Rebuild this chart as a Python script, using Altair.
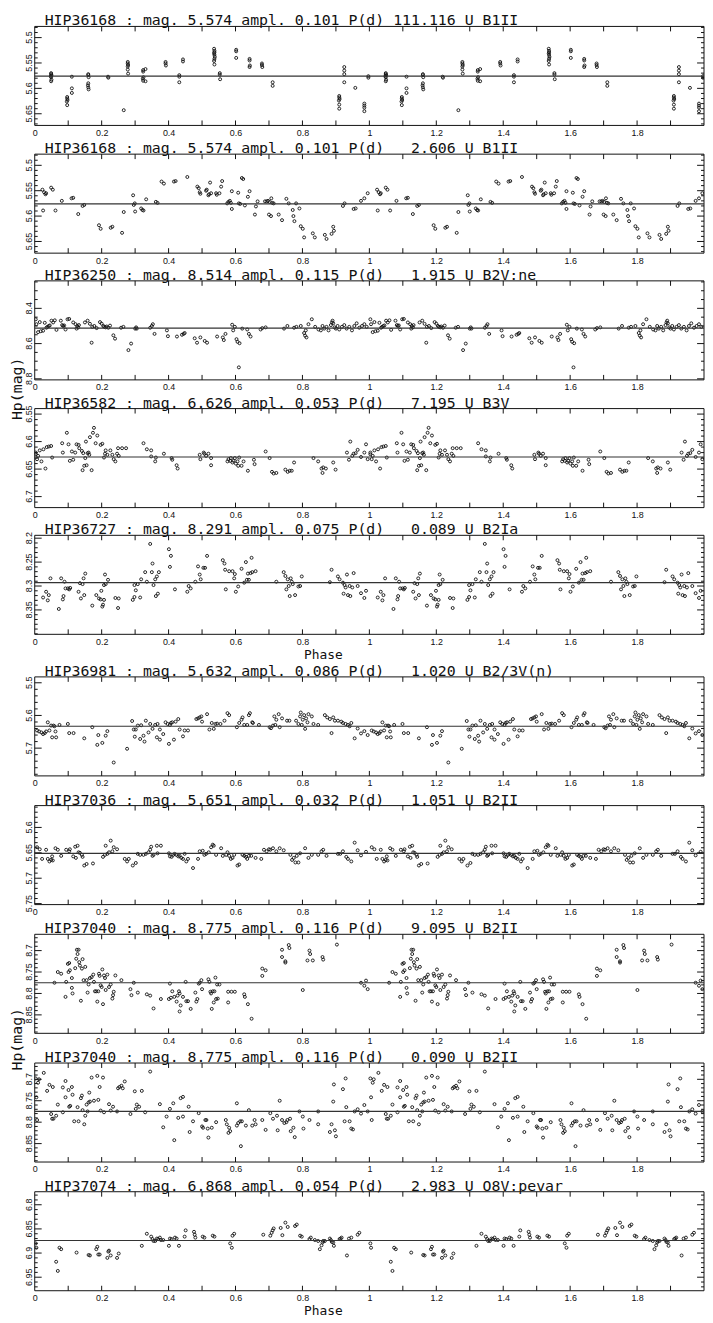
import altair as alt
import numpy as np
import pandas as pd

W = 676
H = 100
TITLE_FONT = "DejaVu Sans Mono"
LABEL_FONT = "Liberation Sans"
INK = "#111111"

XLAB = [0, 0.2, 0.4, 0.6, 0.8, 1, 1.2, 1.4, 1.6, 1.8]
XTICKS = [0.1, 0.2, 0.3, 0.4, 0.5, 0.6, 0.7, 0.8, 0.9, 1.0, 1.1, 1.2, 1.3, 1.4, 1.5, 1.6, 1.7, 1.8, 1.9]

TITLES = [
    "HIP36168 : mag. 5.574 ampl. 0.101 P(d) 111.116 U B1II",
    "HIP36168 : mag. 5.574 ampl. 0.101 P(d)\u00a0\u00a0\u00a02.606 U B1II",
    "HIP36250 : mag. 8.514 ampl. 0.115 P(d)\u00a0\u00a0\u00a01.915 U B2V:ne",
    "HIP36582 : mag. 6.626 ampl. 0.053 P(d)\u00a0\u00a0\u00a07.195 U B3V",
    "HIP36727 : mag. 8.291 ampl. 0.075 P(d)\u00a0\u00a0\u00a00.089 U B2Ia",
    "HIP36981 : mag. 5.632 ampl. 0.086 P(d)\u00a0\u00a0\u00a01.020 U B2/3V(n)",
    "HIP37036 : mag. 5.651 ampl. 0.032 P(d)\u00a0\u00a0\u00a01.051 U B2II",
    "HIP37040 : mag. 8.775 ampl. 0.116 P(d)\u00a0\u00a0\u00a09.095 U B2II",
    "HIP37040 : mag. 8.775 ampl. 0.116 P(d)\u00a0\u00a0\u00a00.090 U B2II",
    "HIP37074 : mag. 6.868 ampl. 0.054 P(d)\u00a0\u00a0\u00a02.983 U O8V:pevar",
]

MEAN_LINE = [5.576, 5.576, 8.512, 6.628, 8.293, 5.633, 5.651, 8.775, 8.775, 6.874]

Y_DOMAIN = [
    (5.478, 5.673), (5.478, 5.673), (8.244, 8.806), (6.540, 6.720), (8.194, 8.401),
    (5.482, 5.785), (5.557, 5.752), (8.662, 8.893), (8.662, 8.893), (6.773, 6.978),
]
Y_MAJOR = [
    [5.5, 5.55, 5.6, 5.65], [5.5, 5.55, 5.6, 5.65], [8.4, 8.6, 8.8], [6.55, 6.6, 6.65, 6.7],
    [8.2, 8.25, 8.3, 8.35], [5.5, 5.6, 5.7], [5.6, 5.65, 5.7, 5.75], [8.7, 8.75, 8.8, 8.85],
    [8.7, 8.75, 8.8, 8.85], [6.8, 6.85, 6.9, 6.95],
]
Y_LABELS = [
    ["5.5", "5.55", "5.6", "5.65"], ["5.5", "5.55", "5.6", "5.65"], ["8.4", "8.6", "8.8"],
    ["6.55", "6.6", "6.65", "6.7"], ["8.2", "8.25", "8.3", "8.35"], ["5.5", "5.6", "5.7"],
    ["5.6", "5.65", "5.7", "5.75"], ["8.7", "8.75", "8.8", "8.85"], ["8.7", "8.75", "8.8", "8.85"],
    ["6.8", "6.85", "6.9", "6.95"],
]
Y_MINOR_STEP = [0.01, 0.01, 0.05, 0.01, 0.01, 0.02, 0.01, 0.01, 0.01, 0.01]

# phase (0-1), Hp magnitude : each point is shown at phase and phase+1
P1 = [(0.049,5.570),(0.049,5.572),(0.050,5.574),(0.048,5.576),(0.049,5.578),(0.050,5.583),(0.049,5.586),
      (0.097,5.617),(0.097,5.620),(0.098,5.623),(0.096,5.626),(0.097,5.633),
      (0.111,5.577),(0.111,5.600),(0.111,5.609),
      (0.160,5.572),(0.160,5.574),(0.161,5.578),(0.160,5.590),(0.159,5.594),(0.160,5.598),(0.161,5.602),
      (0.219,5.577),(0.220,5.579),(0.266,5.643),
      (0.278,5.548),(0.278,5.551),(0.279,5.554),(0.278,5.557),(0.278,5.563),(0.279,5.571),
      (0.324,5.564),(0.324,5.567),(0.325,5.578),(0.323,5.581),(0.324,5.585),(0.331,5.562),(0.331,5.586),
      (0.391,5.548),(0.391,5.551),(0.392,5.555),(0.432,5.574),(0.432,5.577),(0.432,5.588),
      (0.443,5.543),(0.443,5.547),
      (0.536,5.522),(0.537,5.526),(0.537,5.529),(0.536,5.531),(0.537,5.534),(0.538,5.538),(0.537,5.542),
      (0.536,5.546),(0.537,5.553),(0.553,5.570),(0.553,5.573),(0.554,5.582),
      (0.602,5.524),(0.602,5.527),(0.602,5.540),(0.642,5.542),(0.642,5.545),(0.643,5.555),(0.642,5.558),
      (0.679,5.551),(0.679,5.554),(0.680,5.558),(0.711,5.588),(0.711,5.595),
      (0.910,5.615),(0.910,5.618),(0.911,5.621),(0.909,5.624),(0.910,5.632),(0.910,5.640),
      (0.925,5.558),(0.925,5.565),(0.925,5.572),(0.925,5.588),(0.958,5.599),
      (0.985,5.630),(0.985,5.634),(0.985,5.638),(0.985,5.645),(0.997,5.576),(0.997,5.579)]

P2 = [(0.023,5.548),(0.028,5.553),(0.032,5.557),(0.034,5.555),(0.025,5.589),(0.049,5.544),(0.054,5.548),
      (0.062,5.589),(0.081,5.570),(0.110,5.565),(0.115,5.564),(0.130,5.596),(0.143,5.580),(0.148,5.578),
      (0.192,5.618),(0.197,5.625),(0.227,5.623),(0.232,5.621),(0.261,5.633),(0.266,5.592),(0.294,5.559),
      (0.296,5.578),(0.299,5.575),(0.300,5.591),(0.318,5.585),(0.322,5.588),(0.325,5.589),(0.333,5.567),
      (0.362,5.572),(0.367,5.574),(0.379,5.532),(0.386,5.536),(0.416,5.532),(0.421,5.531),(0.456,5.523),
      (0.486,5.542),(0.490,5.545),(0.493,5.553),(0.495,5.556),(0.512,5.550),(0.514,5.548),(0.519,5.559),
      (0.521,5.557),(0.524,5.534),(0.527,5.555),(0.542,5.555),(0.544,5.558),(0.552,5.555),(0.557,5.542),
      (0.560,5.531),(0.575,5.575),(0.579,5.572),(0.583,5.570),(0.586,5.574),(0.589,5.551),(0.589,5.586),
      (0.608,5.554),(0.610,5.575),(0.614,5.576),(0.619,5.525),(0.623,5.527),(0.628,5.579),(0.637,5.562),
      (0.642,5.551),(0.658,5.597),(0.661,5.581),(0.666,5.571),(0.688,5.571),(0.693,5.571),(0.697,5.570),
      (0.700,5.597),(0.702,5.572),(0.706,5.600),(0.707,5.565),(0.710,5.574),(0.714,5.575),(0.729,5.597),
      (0.739,5.608),(0.752,5.566),(0.759,5.575),(0.771,5.588),(0.773,5.600),(0.776,5.610),(0.781,5.575),
      (0.791,5.585),(0.795,5.620),(0.801,5.625),(0.805,5.642),(0.831,5.634),(0.837,5.642),(0.867,5.637),
      (0.872,5.645),(0.887,5.635),(0.892,5.621),(0.894,5.629),(0.921,5.580),(0.926,5.575),(0.953,5.586),
      (0.959,5.585),(0.975,5.570),(0.985,5.565),(0.995,5.555)]

P3 = [(0.003,8.462),(0.005,8.490),(0.010,8.535),(0.015,8.478),(0.018,8.530),(0.025,8.527),(0.030,8.482),
      (0.035,8.510),(0.038,8.505),(0.042,8.500),(0.045,8.497),(0.050,8.470),(0.055,8.480),(0.060,8.468),
      (0.065,8.522),(0.078,8.470),(0.082,8.495),(0.085,8.500),(0.088,8.497),(0.092,8.520),(0.098,8.462),
      (0.103,8.460),(0.115,8.480),(0.122,8.490),(0.125,8.515),(0.127,8.500),(0.130,8.508),(0.132,8.495),
      (0.150,8.480),(0.158,8.470),(0.165,8.488),(0.170,8.595),(0.172,8.505),(0.178,8.500),(0.185,8.512),
      (0.195,8.478),(0.200,8.487),(0.205,8.500),(0.208,8.505),(0.212,8.508),(0.215,8.503),(0.220,8.510),
      (0.225,8.498),(0.235,8.553),(0.240,8.572),(0.258,8.510),(0.265,8.505),(0.280,8.637),(0.288,8.600),
      (0.300,8.515),(0.303,8.508),(0.305,8.515),(0.345,8.510),(0.350,8.500),(0.353,8.490),(0.358,8.545),
      (0.395,8.525),(0.398,8.558),(0.425,8.560),(0.440,8.550),(0.445,8.545),(0.448,8.540),(0.478,8.570),
      (0.485,8.595),(0.495,8.565),(0.508,8.585),(0.515,8.595),(0.545,8.560),(0.562,8.565),(0.565,8.580),
      (0.570,8.545),(0.590,8.493),(0.593,8.525),(0.598,8.505),(0.603,8.575),(0.606,8.590),(0.610,8.735),
      (0.612,8.598),(0.620,8.515),(0.635,8.520),(0.640,8.545),(0.645,8.560),(0.675,8.520),(0.680,8.512),
      (0.690,8.508),(0.745,8.515),(0.755,8.500),(0.775,8.510),(0.782,8.505),(0.795,8.500),(0.805,8.540),
      (0.808,8.555),(0.810,8.525),(0.812,8.565),(0.818,8.490),(0.828,8.462),(0.838,8.505),(0.848,8.520),
      (0.855,8.525),(0.860,8.500),(0.865,8.515),(0.872,8.505),(0.878,8.525),(0.885,8.495),(0.888,8.480),
      (0.890,8.470),(0.892,8.485),(0.896,8.508),(0.900,8.515),(0.905,8.500),(0.910,8.520),(0.918,8.505),
      (0.925,8.495),(0.932,8.515),(0.940,8.505),(0.948,8.525),(0.955,8.500),(0.962,8.485),(0.970,8.510),
      (0.978,8.500),(0.985,8.490),(0.992,8.505)]

P4 = [(0.003,6.620),(0.003,6.623),(0.007,6.632),(0.010,6.626),(0.015,6.616),(0.020,6.636),(0.026,6.614),
      (0.032,6.649),(0.036,6.610),(0.042,6.609),(0.049,6.608),(0.052,6.629),(0.082,6.603),(0.084,6.620),
      (0.096,6.584),(0.101,6.605),(0.105,6.635),(0.111,6.618),(0.115,6.633),(0.121,6.620),(0.125,6.605),
      (0.131,6.606),(0.133,6.612),(0.141,6.617),(0.143,6.652),(0.145,6.621),(0.148,6.644),(0.151,6.630),
      (0.153,6.600),(0.155,6.643),(0.158,6.621),(0.161,6.620),(0.163,6.624),(0.165,6.592),(0.170,6.652),
      (0.174,6.584),(0.177,6.575),(0.182,6.603),(0.187,6.589),(0.197,6.606),(0.202,6.604),(0.207,6.629),
      (0.210,6.622),(0.212,6.616),(0.217,6.624),(0.226,6.616),(0.232,6.624),(0.236,6.632),(0.241,6.636),
      (0.246,6.622),(0.249,6.612),(0.251,6.626),(0.261,6.612),(0.273,6.612),(0.325,6.603),(0.335,6.614),
      (0.348,6.616),(0.348,6.627),(0.360,6.636),(0.362,6.629),(0.386,6.622),(0.409,6.630),(0.411,6.633),
      (0.424,6.643),(0.427,6.649),(0.493,6.624),(0.495,6.632),(0.505,6.620),(0.507,6.622),(0.512,6.626),
      (0.519,6.622),(0.527,6.630),(0.527,6.643),(0.576,6.636),(0.579,6.632),(0.584,6.635),(0.586,6.630),
      (0.591,6.638),(0.594,6.635),(0.598,6.630),(0.601,6.640),(0.606,6.636),(0.608,6.644),(0.611,6.629),
      (0.618,6.644),(0.624,6.636),(0.637,6.653),(0.655,6.633),(0.657,6.641),(0.690,6.618),(0.702,6.630),
      (0.709,6.655),(0.714,6.658),(0.722,6.657),(0.749,6.651),(0.756,6.655),(0.762,6.653),(0.768,6.653),
      (0.775,6.638),(0.833,6.630),(0.847,6.636),(0.857,6.649),(0.860,6.657),(0.862,6.647),(0.870,6.649),
      (0.892,6.638),(0.899,6.651),(0.933,6.620),(0.939,6.633),(0.943,6.600),(0.949,6.626),(0.953,6.622),
      (0.959,6.621),(0.965,6.615),(0.975,6.628),(0.985,6.620),(0.990,6.605),(0.995,6.632)]

P5 = [(0.025,8.324),(0.034,8.312),(0.039,8.330),(0.042,8.319),(0.047,8.284),(0.072,8.348),(0.079,8.284),
      (0.084,8.328),(0.086,8.321),(0.089,8.291),(0.092,8.305),(0.099,8.305),(0.103,8.307),(0.106,8.304),
      (0.131,8.312),(0.135,8.294),(0.138,8.326),(0.143,8.296),(0.146,8.284),(0.148,8.319),(0.151,8.274),
      (0.172,8.341),(0.184,8.319),(0.192,8.326),(0.197,8.328),(0.199,8.310),(0.202,8.343),(0.204,8.339),
      (0.207,8.329),(0.207,8.298),(0.210,8.276),(0.212,8.296),(0.219,8.287),(0.241,8.325),(0.249,8.346),
      (0.251,8.326),(0.293,8.329),(0.298,8.323),(0.298,8.298),(0.302,8.309),(0.308,8.296),(0.315,8.324),
      (0.318,8.286),(0.330,8.271),(0.335,8.291),(0.345,8.212),(0.350,8.271),(0.352,8.253),(0.355,8.298),
      (0.360,8.286),(0.362,8.321),(0.365,8.280),(0.368,8.316),(0.371,8.271),(0.401,8.223),(0.404,8.260),
      (0.407,8.237),(0.419,8.307),(0.456,8.312),(0.460,8.300),(0.466,8.305),(0.480,8.291),(0.488,8.259),
      (0.493,8.276),(0.496,8.286),(0.504,8.262),(0.509,8.262),(0.515,8.237),(0.562,8.246),(0.567,8.253),
      (0.569,8.266),(0.571,8.307),(0.581,8.269),(0.591,8.269),(0.596,8.284),(0.598,8.275),(0.601,8.312),
      (0.608,8.301),(0.618,8.264),(0.626,8.293),(0.631,8.250),(0.634,8.287),(0.637,8.274),(0.640,8.287),
      (0.645,8.273),(0.648,8.241),(0.650,8.271),(0.660,8.269),(0.722,8.291),(0.744,8.271),(0.749,8.279),
      (0.752,8.307),(0.756,8.286),(0.759,8.300),(0.762,8.321),(0.765,8.284),(0.768,8.291),(0.771,8.296),
      (0.778,8.319),(0.788,8.301),(0.793,8.300),(0.798,8.280),(0.882,8.292),(0.887,8.266),(0.906,8.280),
      (0.911,8.286),(0.921,8.293),(0.923,8.316),(0.926,8.298),(0.929,8.303),(0.933,8.276),(0.936,8.319),
      (0.941,8.300),(0.943,8.321),(0.949,8.303),(0.953,8.273),(0.965,8.300),(0.975,8.315),(0.985,8.325),
      (0.990,8.310)]

P6 = [(0.007,5.646),(0.013,5.649),(0.020,5.652),(0.025,5.657),(0.030,5.654),(0.034,5.649),(0.039,5.621),
      (0.044,5.646),(0.049,5.631),(0.052,5.667),(0.056,5.631),(0.059,5.633),(0.062,5.649),(0.064,5.667),
      (0.074,5.629),(0.099,5.626),(0.103,5.654),(0.116,5.654),(0.148,5.670),(0.172,5.636),(0.187,5.690),
      (0.190,5.660),(0.202,5.684),(0.212,5.662),(0.217,5.648),(0.236,5.744),(0.276,5.702),(0.291,5.617),
      (0.296,5.643),(0.299,5.665),(0.302,5.643),(0.308,5.631),(0.315,5.672),(0.318,5.630),(0.325,5.662),
      (0.328,5.680),(0.332,5.616),(0.340,5.652),(0.345,5.626),(0.352,5.641),(0.360,5.629),(0.365,5.667),
      (0.367,5.626),(0.374,5.674),(0.374,5.643),(0.384,5.657),(0.391,5.621),(0.397,5.626),(0.401,5.687),
      (0.404,5.629),(0.407,5.623),(0.411,5.621),(0.416,5.674),(0.421,5.619),(0.429,5.611),(0.433,5.643),
      (0.443,5.664),(0.448,5.646),(0.458,5.646),(0.483,5.611),(0.488,5.609),(0.493,5.606),(0.498,5.603),
      (0.500,5.619),(0.515,5.596),(0.522,5.643),(0.529,5.623),(0.535,5.641),(0.540,5.626),(0.545,5.625),
      (0.555,5.626),(0.567,5.616),(0.576,5.593),(0.581,5.599),(0.604,5.636),(0.611,5.623),(0.618,5.613),
      (0.621,5.606),(0.626,5.629),(0.635,5.629),(0.640,5.599),(0.643,5.593),(0.650,5.621),(0.652,5.623),
      (0.670,5.629),(0.702,5.636),(0.706,5.639),(0.712,5.631),(0.716,5.603),(0.719,5.629),(0.722,5.613),
      (0.729,5.596),(0.732,5.636),(0.739,5.609),(0.754,5.616),(0.761,5.616),(0.781,5.616),(0.788,5.626),
      (0.793,5.603),(0.795,5.591),(0.798,5.629),(0.801,5.613),(0.805,5.599),(0.808,5.641),(0.811,5.609),
      (0.815,5.621),(0.818,5.596),(0.828,5.603),(0.833,5.626),(0.847,5.629),(0.867,5.599),(0.874,5.606),
      (0.882,5.611),(0.887,5.654),(0.892,5.606),(0.897,5.616),(0.906,5.616),(0.916,5.619),(0.921,5.623),
      (0.929,5.626),(0.936,5.629),(0.941,5.633),(0.946,5.623),(0.956,5.670),(0.965,5.640),(0.975,5.655),
      (0.985,5.648),(0.995,5.660)]

P7 = [(0.007,5.639),(0.015,5.643),(0.022,5.662),(0.034,5.644),(0.039,5.662),(0.044,5.667),(0.049,5.664),
      (0.052,5.657),(0.054,5.665),(0.062,5.641),(0.069,5.644),(0.079,5.656),(0.094,5.644),(0.103,5.647),
      (0.105,5.643),(0.115,5.657),(0.121,5.638),(0.123,5.660),(0.128,5.636),(0.131,5.649),(0.135,5.650),
      (0.141,5.654),(0.143,5.658),(0.148,5.675),(0.155,5.672),(0.174,5.671),(0.204,5.658),(0.210,5.654),
      (0.212,5.636),(0.217,5.652),(0.222,5.649),(0.227,5.626),(0.232,5.647),(0.236,5.639),(0.246,5.643),
      (0.269,5.662),(0.276,5.667),(0.281,5.662),(0.293,5.675),(0.302,5.670),(0.308,5.652),(0.315,5.654),
      (0.325,5.654),(0.332,5.652),(0.340,5.649),(0.345,5.644),(0.348,5.638),(0.352,5.656),(0.355,5.654),
      (0.365,5.636),(0.367,5.651),(0.377,5.636),(0.401,5.651),(0.404,5.657),(0.409,5.658),(0.414,5.654),
      (0.418,5.652),(0.423,5.654),(0.429,5.657),(0.433,5.656),(0.438,5.660),(0.443,5.662),(0.448,5.652),
      (0.453,5.667),(0.458,5.662),(0.473,5.680),(0.488,5.662),(0.493,5.647),(0.502,5.646),(0.507,5.654),
      (0.512,5.652),(0.520,5.649),(0.527,5.639),(0.532,5.634),(0.535,5.636),(0.542,5.654),(0.557,5.641),
      (0.562,5.656),(0.572,5.654),(0.576,5.649),(0.581,5.656),(0.586,5.662),(0.591,5.660),(0.596,5.654),
      (0.606,5.675),(0.611,5.673),(0.621,5.654),(0.626,5.656),(0.631,5.658),(0.635,5.662),(0.640,5.656),
      (0.647,5.656),(0.660,5.660),(0.677,5.662),(0.685,5.644),(0.693,5.647),(0.700,5.643),(0.704,5.644),
      (0.712,5.641),(0.722,5.647),(0.732,5.641),(0.744,5.645),(0.764,5.654),(0.769,5.664),(0.774,5.660),
      (0.779,5.669),(0.783,5.656),(0.788,5.669),(0.793,5.651),(0.808,5.641),(0.818,5.660),(0.828,5.654),
      (0.847,5.654),(0.857,5.647),(0.862,5.644),(0.872,5.656),(0.906,5.652),(0.913,5.652),(0.921,5.647),
      (0.931,5.658),(0.936,5.662),(0.946,5.667),(0.956,5.630),(0.965,5.645),(0.975,5.655),(0.990,5.648)]

P8 = [(0.059,8.775),(0.069,8.750),(0.079,8.754),(0.092,8.808),(0.094,8.773),(0.099,8.731),(0.101,8.750),
      (0.103,8.729),(0.105,8.746),(0.111,8.764),(0.111,8.787),(0.113,8.800),(0.121,8.741),(0.124,8.719),
      (0.126,8.698),(0.128,8.708),(0.131,8.698),(0.133,8.727),(0.135,8.735),(0.138,8.817),(0.141,8.742),
      (0.143,8.720),(0.146,8.769),(0.151,8.738),(0.155,8.769),(0.158,8.798),(0.161,8.779),(0.165,8.764),
      (0.170,8.762),(0.175,8.756),(0.177,8.773),(0.180,8.795),(0.184,8.795),(0.187,8.819),(0.190,8.795),
      (0.192,8.754),(0.194,8.759),(0.197,8.781),(0.200,8.785),(0.202,8.744),(0.204,8.825),(0.207,8.758),
      (0.210,8.764),(0.212,8.792),(0.217,8.756),(0.222,8.785),(0.227,8.779),(0.232,8.812),(0.234,8.804),
      (0.236,8.796),(0.241,8.758),(0.259,8.769),(0.286,8.790),(0.289,8.804),(0.296,8.775),(0.308,8.798),
      (0.335,8.802),(0.345,8.805),(0.355,8.835),(0.377,8.813),(0.401,8.813),(0.404,8.777),(0.407,8.810),
      (0.411,8.795),(0.417,8.808),(0.424,8.819),(0.427,8.805),(0.431,8.795),(0.433,8.800),(0.433,8.842),
      (0.436,8.828),(0.443,8.808),(0.451,8.773),(0.453,8.818),(0.458,8.818),(0.466,8.836),(0.480,8.798),
      (0.483,8.819),(0.486,8.813),(0.490,8.777),(0.493,8.775),(0.498,8.769),(0.500,8.790),(0.519,8.767),
      (0.522,8.773),(0.525,8.796),(0.527,8.800),(0.529,8.836),(0.532,8.795),(0.535,8.821),(0.537,8.795),
      (0.540,8.763),(0.542,8.813),(0.545,8.779),(0.547,8.812),(0.552,8.779),(0.578,8.796),(0.578,8.821),
      (0.588,8.796),(0.598,8.796),(0.626,8.802),(0.628,8.808),(0.637,8.825),(0.648,8.859),(0.680,8.742),
      (0.680,8.759),(0.690,8.746),(0.739,8.698),(0.739,8.715),(0.749,8.725),(0.749,8.728),(0.759,8.687),
      (0.761,8.694),(0.801,8.792),(0.815,8.723),(0.821,8.700),(0.823,8.708),(0.831,8.723),(0.860,8.715),
      (0.862,8.721),(0.903,8.686),(0.975,8.775),(0.985,8.782),(0.990,8.770),(0.995,8.790)]

P9 = [(0.003,8.698),(0.005,8.742),(0.007,8.795),(0.010,8.708),(0.013,8.700),(0.027,8.685),(0.037,8.727),
      (0.044,8.713),(0.049,8.781),(0.052,8.792),(0.054,8.718),(0.056,8.792),(0.064,8.785),(0.069,8.759),
      (0.084,8.777),(0.084,8.719),(0.092,8.704),(0.092,8.742),(0.101,8.725),(0.103,8.764),(0.106,8.762),
      (0.111,8.718),(0.113,8.736),(0.118,8.798),(0.128,8.765),(0.131,8.798),(0.138,8.744),(0.141,8.738),
      (0.143,8.772),(0.148,8.805),(0.151,8.785),(0.155,8.759),(0.158,8.775),(0.161,8.754),(0.163,8.731),
      (0.165,8.752),(0.170,8.696),(0.177,8.750),(0.187,8.692),(0.190,8.748),(0.194,8.718),(0.197,8.773),
      (0.204,8.696),(0.207,8.777),(0.222,8.758),(0.227,8.773),(0.234,8.764),(0.246,8.775),(0.249,8.721),
      (0.253,8.718),(0.259,8.715),(0.263,8.721),(0.269,8.705),(0.286,8.781),(0.299,8.728),(0.302,8.769),
      (0.305,8.759),(0.312,8.764),(0.320,8.727),(0.330,8.777),(0.345,8.682),(0.374,8.758),(0.384,8.812),
      (0.394,8.787),(0.404,8.769),(0.414,8.756),(0.417,8.842),(0.429,8.790),(0.436,8.744),(0.443,8.741),
      (0.443,8.787),(0.460,8.764),(0.463,8.823),(0.473,8.798),(0.490,8.779),(0.500,8.810),(0.503,8.813),
      (0.510,8.795),(0.513,8.795),(0.517,8.815),(0.519,8.836),(0.529,8.813),(0.542,8.800),(0.571,8.795),
      (0.574,8.805),(0.579,8.825),(0.581,8.813),(0.584,8.821),(0.604,8.756),(0.604,8.808),(0.608,8.802),
      (0.614,8.798),(0.616,8.856),(0.619,8.798),(0.631,8.808),(0.640,8.772),(0.650,8.808),(0.657,8.795),
      (0.660,8.805),(0.680,8.795),(0.690,8.818),(0.704,8.779),(0.712,8.792),(0.724,8.785),(0.726,8.819),
      (0.732,8.750),(0.739,8.795),(0.746,8.802),(0.752,8.800),(0.755,8.795),(0.763,8.792),(0.765,8.821),
      (0.773,8.813),(0.777,8.835),(0.791,8.775),(0.801,8.787),(0.803,8.815),(0.821,8.795),(0.847,8.775),
      (0.847,8.805),(0.882,8.823),(0.887,8.805),(0.892,8.752),(0.894,8.712),(0.897,8.819),(0.900,8.833),
      (0.921,8.723),(0.926,8.798),(0.929,8.698),(0.931,8.765),(0.941,8.798),(0.946,8.815),(0.951,8.817),
      (0.956,8.775),(0.965,8.770),(0.975,8.780),(0.985,8.760),(0.995,8.775)]

P10 = [(0.003,6.880),(0.005,6.889),(0.064,6.918),(0.069,6.937),(0.074,6.889),(0.079,6.892),(0.125,6.899),
       (0.161,6.904),(0.165,6.905),(0.184,6.892),(0.187,6.887),(0.190,6.903),(0.194,6.903),(0.217,6.910),
       (0.220,6.897),(0.222,6.895),(0.227,6.905),(0.246,6.910),(0.251,6.901),(0.320,6.885),(0.335,6.860),
       (0.348,6.866),(0.352,6.871),(0.355,6.875),(0.360,6.875),(0.365,6.870),(0.369,6.871),(0.374,6.868),
       (0.377,6.873),(0.384,6.873),(0.401,6.885),(0.404,6.870),(0.409,6.871),(0.419,6.868),(0.424,6.870),
       (0.431,6.885),(0.448,6.866),(0.451,6.853),(0.476,6.856),(0.478,6.862),(0.480,6.868),(0.502,6.866),
       (0.507,6.868),(0.532,6.864),(0.537,6.866),(0.584,6.880),(0.589,6.889),(0.591,6.864),(0.596,6.860),
       (0.683,6.862),(0.704,6.864),(0.708,6.858),(0.711,6.853),(0.714,6.849),(0.735,6.848),(0.740,6.863),
       (0.749,6.837),(0.756,6.846),(0.778,6.844),(0.783,6.841),(0.793,6.864),(0.798,6.866),(0.821,6.871),
       (0.825,6.868),(0.837,6.873),(0.847,6.875),(0.852,6.892),(0.857,6.884),(0.860,6.878),(0.862,6.875),
       (0.867,6.875),(0.882,6.870),(0.885,6.873),(0.888,6.877),(0.892,6.878),(0.894,6.885),(0.911,6.871),
       (0.914,6.870),(0.917,6.868),(0.933,6.905),(0.939,6.870),(0.946,6.868),(0.965,6.862),(0.970,6.858)]

DATA = [P1, P2, P3, P4, P5, P6, P7, P8, P9, P10]
TOP_PAD = [0, 1, 0, 1, 0, 15, 2, 2, 2, 2]
SPACING = 28


def panel(i):
    lo, hi = Y_DOMAIN[i]
    pad = TOP_PAD[i]
    span = hi - lo
    lo_ext = lo - pad * span / H
    ht = H + pad
    xs = alt.Scale(domain=[0, 2], nice=False, zero=False)
    ys = alt.Scale(domain=[lo_ext, hi], reverse=True, nice=False, zero=False)

    df = pd.DataFrame(DATA[i], columns=["phase", "mag"])
    df = pd.concat([df, df.assign(phase=df["phase"] + 1.0)], ignore_index=True)

    xaxis = alt.Axis(values=XLAB, format="~g", title="", ticks=False, tickSize=0, domain=False,
                     grid=False, labelFont=LABEL_FONT, labelFontSize=9, labelColor=INK,
                     labelPadding=3, labelFlush=False, labelOverlap=False)
    yaxis = alt.Axis(values=Y_MAJOR[i], title="", labels=False, ticks=False, tickSize=0,
                     domain=False, grid=False)

    pts = alt.Chart(df).mark_point(shape="circle", filled=False, size=9, strokeWidth=0.9,
                                   color=INK, opacity=1, clip=True).encode(
        x=alt.X("phase:Q", scale=xs, axis=xaxis),
        y=alt.Y("mag:Q", scale=ys, axis=yaxis),
    )

    frame = alt.Chart(pd.DataFrame({"x0": [0.0], "x1": [2.0], "y0": [lo], "y1": [hi]})).mark_rect(
        fillOpacity=0, stroke=INK, strokeWidth=1).encode(
        x=alt.X("x0:Q", title=""), x2="x1", y=alt.Y("y0:Q", title=""), y2="y1")

    mean = alt.Chart(pd.DataFrame({"m": [MEAN_LINE[i]]})).mark_rule(color="#333333", strokeWidth=1.2).encode(
        y=alt.Y("m:Q", title=""))

    xt = pd.DataFrame({"t": XTICKS})
    xt_bot = alt.Chart(xt).mark_rule(color=INK, strokeWidth=1).encode(
        x=alt.X("t:Q", title=""), y=alt.value(ht), y2=alt.value(ht - 5))
    xt_top = alt.Chart(xt).mark_rule(color=INK, strokeWidth=1).encode(
        x=alt.X("t:Q", title=""), y=alt.value(pad), y2=alt.value(pad + 5))

    step = Y_MINOR_STEP[i]
    mn = [round(v, 4) for v in np.arange(np.ceil(lo / step) * step, hi, step)
          if all(abs(v - m) > step / 3 for m in Y_MAJOR[i]) and lo < v < hi]
    ymaj = pd.DataFrame({"v": Y_MAJOR[i], "lab": Y_LABELS[i]})
    ymin = pd.DataFrame({"v": mn})
    yl_maj = alt.Chart(ymaj).mark_rule(color=INK, strokeWidth=1).encode(
        y=alt.Y("v:Q", title=""), x=alt.value(0), x2=alt.value(7))
    yr_maj = alt.Chart(ymaj).mark_rule(color=INK, strokeWidth=1).encode(
        y=alt.Y("v:Q", title=""), x=alt.value(W - 7), x2=alt.value(W))
    yl_min = alt.Chart(ymin).mark_rule(color=INK, strokeWidth=1).encode(
        y=alt.Y("v:Q", title=""), x=alt.value(0), x2=alt.value(3))
    yr_min = alt.Chart(ymin).mark_rule(color=INK, strokeWidth=1).encode(
        y=alt.Y("v:Q", title=""), x=alt.value(W - 3), x2=alt.value(W))
    ylab = alt.Chart(ymaj).mark_text(angle=270, align="center", baseline="alphabetic",
                                     font=LABEL_FONT, fontSize=9, color=INK).encode(
        y=alt.Y("v:Q", title=""), x=alt.value(-3), text="lab:N")

    title = alt.Chart(pd.DataFrame({"t": [TITLES[i]]})).mark_text(
        align="left", baseline="alphabetic", font=TITLE_FONT, fontSize=15, color=INK).encode(
        x=alt.value(10), y=alt.value(pad - 1), text="t:N")

    layers = [pts, frame, mean, xt_bot, xt_top, yl_maj, yr_maj, yl_min, yr_min, ylab, title]

    if i in (2, 7):
        yy = 109 if i == 2 else 108
        layers.append(alt.Chart(pd.DataFrame({"t": ["Hp(mag)"]})).mark_text(
            align="center", baseline="alphabetic", angle=270, font=TITLE_FONT, fontSize=15,
            color=INK).encode(x=alt.value(-13), y=alt.value(yy), text="t:N"))
    if i in (4, 9):
        yy = pad + 124.5
        layers.append(alt.Chart(pd.DataFrame({"t": ["Phase"]})).mark_text(
            align="left", baseline="alphabetic", font=TITLE_FONT, fontSize=13,
            color=INK).encode(x=alt.value(272), y=alt.value(yy), text="t:N"))

    return alt.layer(*layers).properties(width=W, height=ht)


panels = [panel(i) for i in range(10)]

chart = alt.vconcat(*panels, spacing=SPACING, bounds="flush").properties(
    padding={"left": 2, "top": -1, "right": 0, "bottom": 0}
).configure_view(strokeWidth=0)

chart.save("out.html", embed_options={"renderer": "svg", "actions": False})
